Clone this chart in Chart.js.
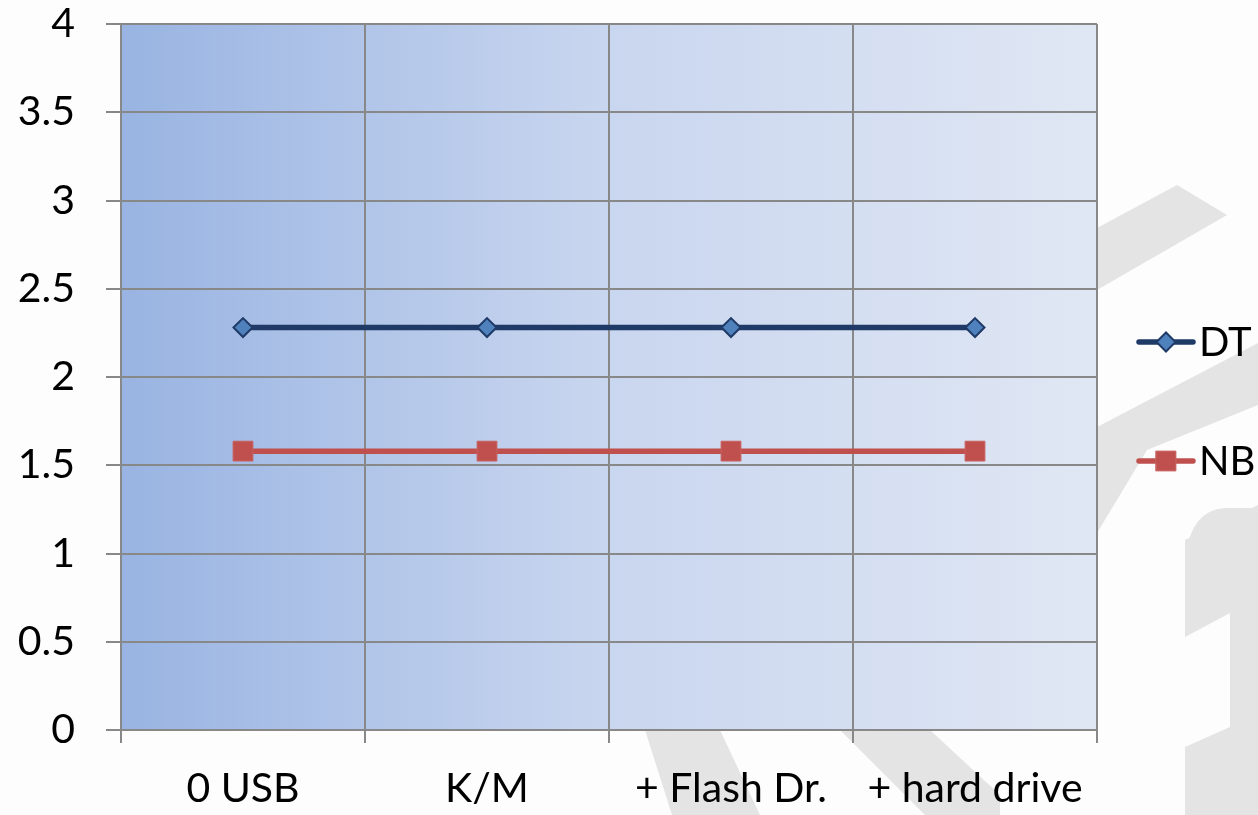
<!DOCTYPE html>
<html><head><meta charset="utf-8">
<script src="https://cdn.jsdelivr.net/npm/chart.js@4"></script>
<style>html,body{margin:0;padding:0;background:#fdfdfd}#wrap{width:1258px;height:815px;position:relative}</style>
</head><body><div id="wrap"><canvas id="c"></canvas></div>
<script>
const categories = ['0 USB', 'K/M', '+ Flash Dr.', '+ hard drive'];
const seriesNames = ['DT', 'NB'];
const dtValues = [2.28, 2.28, 2.28, 2.28];
const nbValues = [1.58, 1.58, 1.58, 1.58];
const yTickLabels = ['0', '0.5', '1', '1.5', '2', '2.5', '3', '3.5', '4'];

const FONT = 'Lato, "Noto Sans", sans-serif';
const GRID = '#888888';

const watermark = {
  id: 'watermark',
  beforeDraw(chart) {
    const ctx = chart.ctx;
    ctx.save();
    ctx.fillStyle = '#fdfdfd';
    ctx.fillRect(0, 0, chart.width, chart.height);
    ctx.fillStyle = '#e4e4e4';
    const polys = [
      [[1097,228],[1177,185],[1227,215],[1097,290]],
      [[1258,343],[1097,427],[1097,533],[1147,450],[1258,405]],
      [[1185,637],[1185,540],[1258,505],[1258,615],[1230,613]],
      [[1230,613],[1258,600],[1258,815],[1230,815]],
      [[1185,747],[1230,727],[1230,815],[1185,815]],
      [[645,730],[720,730],[760,815],[672,815]],
      [[840,730],[930,730],[1000,795],[1000,815],[925,815]]
    ];
    polys.forEach(p => {
      ctx.beginPath();
      p.forEach((pt, i) => i ? ctx.lineTo(pt[0], pt[1]) : ctx.moveTo(pt[0], pt[1]));
      ctx.closePath();
      ctx.fill();
    });
    ctx.beginPath();
    ctx.moveTo(1185, 560);
    ctx.quadraticCurveTo(1190, 510, 1225, 508);
    ctx.lineTo(1258, 508);
    ctx.lineTo(1258, 560);
    ctx.closePath();
    ctx.fill();
    const a = chart.chartArea;
    const g = ctx.createLinearGradient(a.left, 0, a.right, 0);
    g.addColorStop(0, '#99b4e2');
    g.addColorStop(0.5, '#c9d6ef');
    g.addColorStop(1, '#e0e7f4');
    ctx.fillStyle = g;
    ctx.fillRect(a.left, a.top, a.right - a.left, a.bottom - a.top);
    ctx.restore();
  }
};

const sideLegend = {
  id: 'sideLegend',
  afterDraw(chart) {
    const ctx = chart.ctx;
    const ys = [342, 461];
    chart.data.datasets.forEach((ds, i) => {
      const y = ys[i];
      ctx.save();
      ctx.strokeStyle = ds.borderColor;
      ctx.lineWidth = ds.borderWidth;
      ctx.lineCap = 'round';
      ctx.beginPath();
      ctx.moveTo(1139, y);
      ctx.lineTo(1193, y);
      ctx.stroke();
      const opts = {
        pointStyle: ds.pointStyle, radius: ds.pointRadius, rotation: 0,
        borderWidth: ds.pointBorderWidth
      };
      ctx.fillStyle = ds.pointBackgroundColor;
      ctx.strokeStyle = ds.pointBorderColor;
      ctx.lineWidth = ds.pointBorderWidth;
      Chart.helpers.drawPoint(ctx, opts, 1166, y);
      ctx.fillStyle = '#000';
      ctx.font = '40px ' + FONT;
      ctx.textBaseline = 'alphabetic';
      ctx.textAlign = 'left';
      ctx.fillText(ds.label, 1199, y + 14);
      ctx.restore();
    });
  }
};

new Chart(document.getElementById('c'), {
  type: 'line',
  data: {
    labels: categories,
    datasets: [
      {
        label: seriesNames[0], data: dtValues,
        borderColor: '#1f3a66', borderWidth: 5.5,
        pointStyle: 'rectRot', pointRadius: 9.5,
        pointBackgroundColor: '#4f81bd', pointBorderColor: '#1f3a66', pointBorderWidth: 2
      },
      {
        label: seriesNames[1], data: nbValues,
        borderColor: '#c0504d', borderWidth: 5.5,
        pointStyle: 'rect', pointRadius: 14,
        pointBackgroundColor: '#c0504d', pointBorderColor: '#c8625f', pointBorderWidth: 1
      }
    ]
  },
  options: {
    responsive: true, maintainAspectRatio: false, animation: false,
    layout: { padding: { top: 24, right: 161, left: 0, bottom: 0 } },
    plugins: { legend: { display: false }, tooltip: { enabled: false } },
    elements: { line: { tension: 0 } },
    scales: {
      x: {
        offset: true,
        grid: { offset: true, color: GRID, lineWidth: 2, tickLength: 13, drawOnChartArea: true },
        border: { color: GRID, width: 2 },
        ticks: { color: '#000', font: { family: FONT, size: 41 }, padding: 21, maxRotation: 0 },
        afterFit(s) { s.height = 85; s.paddingLeft = 0; s.paddingRight = 0; }
      },
      y: {
        min: 0, max: 4,
        grid: { color: GRID, lineWidth: 2, tickLength: 15 },
        border: { color: GRID, width: 2 },
        ticks: {
          stepSize: 0.5, color: '#000', font: { family: FONT, size: 41 }, padding: 31,
          callback: (v, i) => yTickLabels[i]
        },
        afterFit(s) { s.width = 121; s.paddingTop = 0; s.paddingBottom = 0; }
      }
    }
  },
  plugins: [watermark, sideLegend]
});
</script>
</body></html>
